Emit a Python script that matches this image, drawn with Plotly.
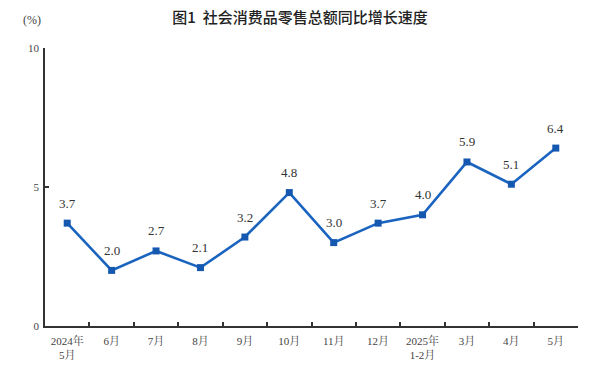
import plotly.graph_objects as go

categories = ["2024年<br>5月", "6月", "7月", "8月", "9月", "10月", "11月", "12月",
              "2025年<br>1-2月", "3月", "4月", "5月"]
values = [3.7, 2.0, 2.7, 2.1, 3.2, 4.8, 3.0, 3.7, 4.0, 5.9, 5.1, 6.4]
y_ticks = [0, 5, 10]

serif = "Liberation Serif, Noto Serif CJK SC, Noto Sans CJK SC, serif"
blue = "#1a64c0"

fig = go.Figure()
fig.add_trace(go.Scatter(
    x=categories, y=values,
    mode="lines+markers",
    line=dict(color=blue, width=2.6),
    marker=dict(symbol="square", size=7, color="#1558b0"),
    cliponaxis=False,
    hoverinfo="skip",
))

annotations = [dict(x=c, y=v, text=f"{v:.1f}", xref="x", yref="y", showarrow=False,
                    yshift=20, xanchor="center", yanchor="middle",
                    font=dict(family=serif, size=13, color="#333333"))
               for c, v in zip(categories, values)]
annotations.append(dict(text="(%)", xref="paper", yref="paper", x=-0.025, y=1.1,
                        xanchor="center", yanchor="middle", showarrow=False,
                        font=dict(family=serif, size=12, color="#444444")))

fig.update_layout(
    width=600, height=377,
    margin=dict(l=45, r=22, t=48, b=51),
    paper_bgcolor="white", plot_bgcolor="white",
    showlegend=False,
    title=dict(text="图1  社会消费品零售总额同比增长速度",
               x=0.5, xanchor="center", y=0.953, yanchor="middle",
               font=dict(family="Noto Sans CJK SC", size=15, color="#222222", weight=500)),
    annotations=annotations,
)
fig.update_xaxes(
    type="category", range=[-0.5, 11.5],
    showline=True, linecolor="#333333", linewidth=1.5,
    ticks="inside", tickson="boundaries", ticklen=4, tickcolor="#333333", tickwidth=1.5,
    showgrid=False, zeroline=False,
    tickfont=dict(family=serif, size=11, color="#444444"),
    ticklabelstandoff=4,
)
fig.update_yaxes(
    range=[0, 10], tickvals=y_ticks,
    showline=True, linecolor="#333333", linewidth=1.5,
    ticks="inside", ticklen=4, tickcolor="#333333", tickwidth=1.5,
    showgrid=False, zeroline=False,
    tickfont=dict(family=serif, size=11, color="#444444"),
    ticklabelstandoff=2,
)

fig.write_html("out.html", config={"displayModeBar": False},
               post_script="document.body.style.margin='0';")
